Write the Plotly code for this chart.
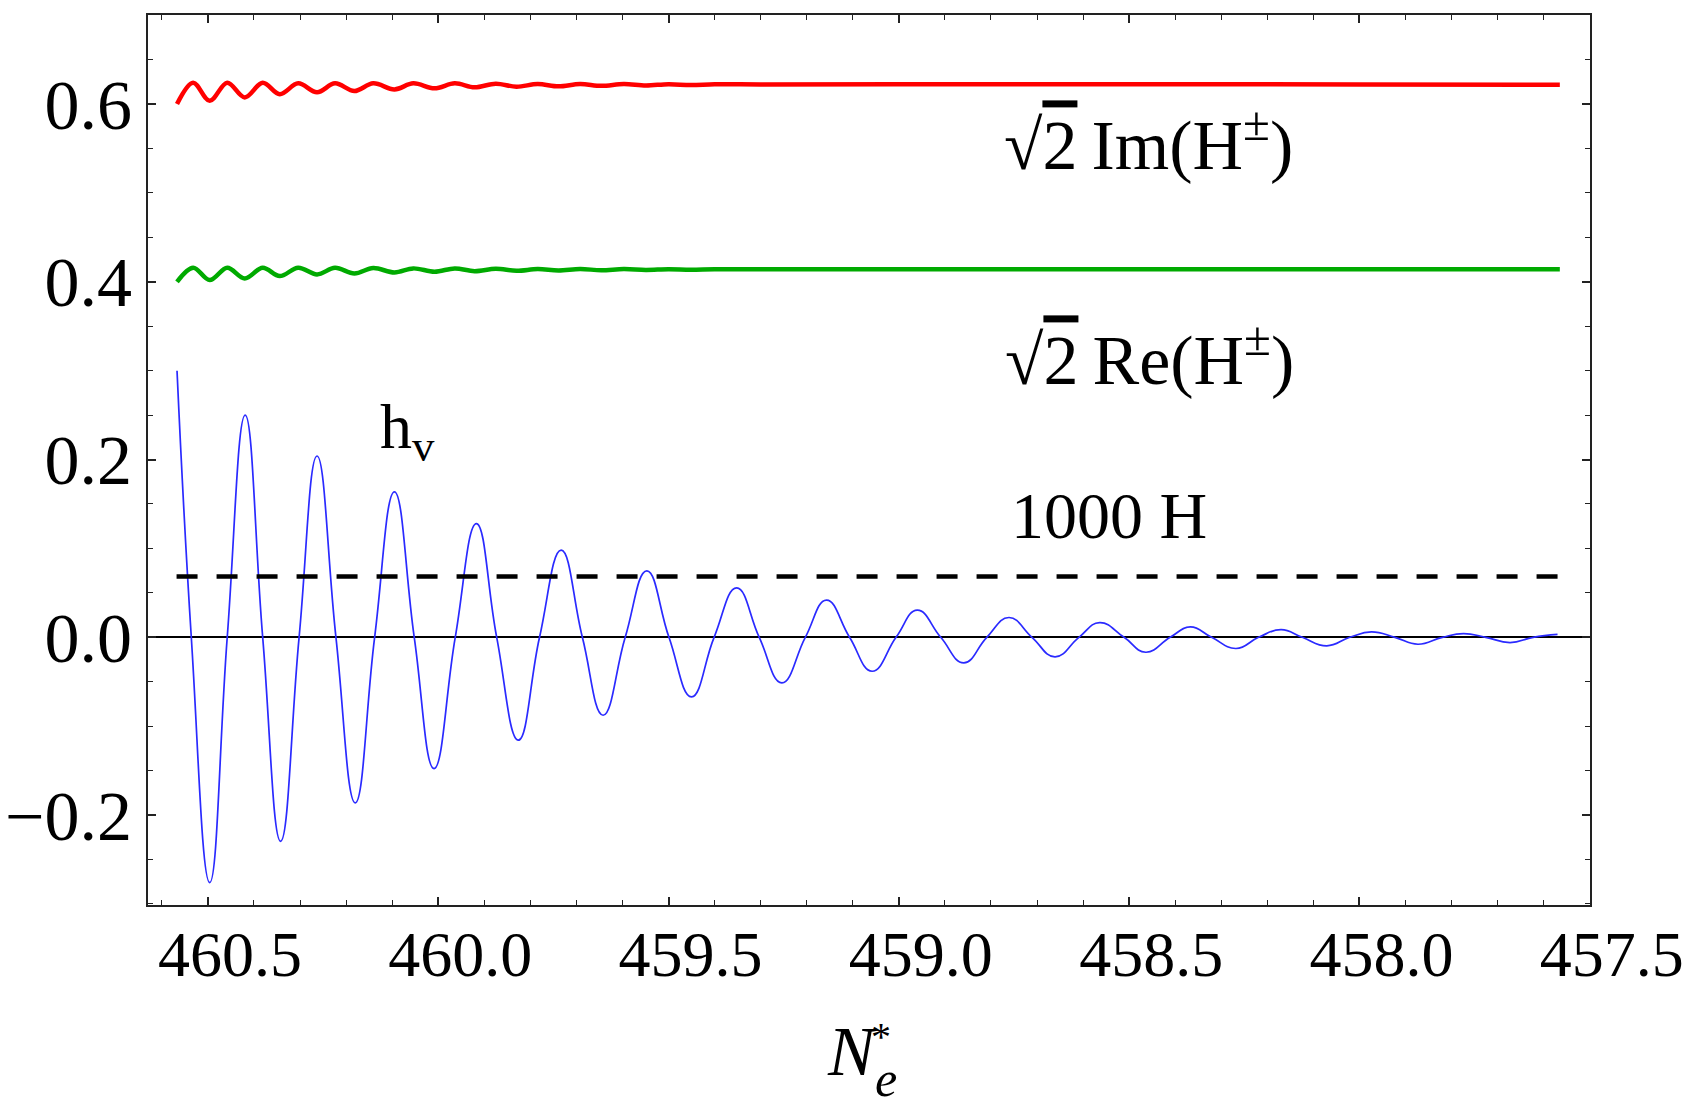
import plotly.graph_objects as go

# ---------------- data ----------------
hv_x = [460.567, 460.536, 460.496, 460.458, 460.419, 460.381, 460.342, 460.302, 460.263, 460.222,
        460.180, 460.138, 460.095, 460.052, 460.009, 459.963, 459.917, 459.873, 459.826, 459.780,
        459.733, 459.687, 459.642, 459.594, 459.547, 459.499, 459.450, 459.401, 459.352, 459.303,
        459.254, 459.203, 459.157, 459.107, 459.058, 459.006, 458.960, 458.909, 458.859, 458.809,
        458.761, 458.711, 458.661, 458.609, 458.564, 458.511, 458.464, 458.411, 458.367, 458.321,
        458.268, 458.219, 458.170, 458.124, 458.071, 458.021, 457.974, 457.923, 457.873, 457.820,
        457.774, 457.726, 457.673, 457.623, 457.570]
hv_y = [0.300, 0.0, -0.276, 0.0, 0.250, 0.0, -0.2295, 0.0, 0.204, 0.0,
        -0.1864, 0.0, 0.1637, 0.0, -0.1477, 0.0, 0.128, 0.0, -0.1158, 0.0,
        0.098, 0.0, -0.0877, 0.0, 0.0748, 0.0, -0.067, 0.0, 0.0557, 0.0,
        -0.0513, 0.0, 0.0418, 0.0, -0.0382, 0.0, 0.0305, 0.0, -0.0288, 0.0,
        0.0223, 0.0, -0.0220, 0.0, 0.0166, 0.0, -0.0168, 0.0, 0.0117, 0.0,
        -0.0126, 0.0, 0.0087, 0.0, -0.0096, 0.0, 0.0061, 0.0, -0.0078, 0.0,
        0.0042, 0.0, -0.0059, 0.0, 0.0033]

im_x = [460.567, 460.532, 460.496, 460.458, 460.420, 460.381, 460.344, 460.304, 460.263, 460.224,
        460.182, 460.141, 460.095, 460.054, 460.008, 459.964, 459.921, 459.875, 459.830, 459.784,
        459.739, 459.692, 459.646, 459.597, 459.549, 459.500, 459.452, 459.400, 459.300, 459.000,
        458.500, 458.000, 457.565]
im_y = [0.600, 0.624, 0.6037, 0.624, 0.6075, 0.624, 0.611, 0.6233, 0.6132, 0.6233,
        0.6146, 0.6233, 0.6165, 0.6233, 0.6177, 0.6233, 0.6188, 0.6229, 0.6195, 0.6225,
        0.6199, 0.6225, 0.6205, 0.6225, 0.6209, 0.6224, 0.6213, 0.6222, 0.6221, 0.6222,
        0.6222, 0.6221, 0.6218]

re_x = im_x
re_y = [0.400, 0.4158, 0.4019, 0.4158, 0.4038, 0.4158, 0.4064, 0.4158, 0.4083, 0.4158,
        0.4094, 0.4155, 0.4105, 0.4151, 0.4113, 0.4151, 0.4120, 0.4147, 0.4124, 0.4143,
        0.4128, 0.4143, 0.4131, 0.4143, 0.4134, 0.4142, 0.4136, 0.4141, 0.4140, 0.4142,
        0.4142, 0.4142, 0.4140]

H_x = [460.568, 457.565]
H_y = [0.0685, 0.0685]

x_ticks = [460.5, 460.0, 459.5, 459.0, 458.5, 458.0, 457.5]
x_ticklabels = ["460.5", "460.0", "459.5", "459.0", "458.5", "458.0", "457.5"]
y_ticks = [-0.2, 0.0, 0.2, 0.4, 0.6]
y_ticklabels = ["\u22120.2", "0.0", "0.2", "0.4", "0.6"]

OVL = "<span style='text-decoration:overline'>2</span>"
labels = [
    ("\u221A" + OVL + "\u2009Im(H<sup>\u00B1</sup>)", 458.458, 0.559, 70),
    ("\u221A" + OVL + "\u2009Re(H<sup>\u00B1</sup>)", 458.456, 0.318, 70),
    ("h<sub>v</sub>", 460.067, 0.232, 64),
    ("1000 H", 458.544, 0.137, 66),
]

FONT = "Liberation Serif"

fig = go.Figure()
fig.add_trace(go.Scatter(x=hv_x, y=hv_y, mode="lines",
                         line=dict(color="#2a2aff", width=1.7, shape="spline", smoothing=1.3)))
fig.add_trace(go.Scatter(x=H_x, y=H_y, mode="lines",
                         line=dict(color="black", width=4.5, dash="21px,19px")))
fig.add_trace(go.Scatter(x=re_x, y=re_y, mode="lines",
                         line=dict(color="#00aa00", width=4.5, shape="spline", smoothing=1.0)))
fig.add_trace(go.Scatter(x=im_x, y=im_y, mode="lines",
                         line=dict(color="#ff0000", width=4.5, shape="spline", smoothing=1.0)))

for txt, lx, ly, fs in labels:
    fig.add_annotation(x=lx, y=ly, xref="x", yref="y", text=txt, showarrow=False,
                       xanchor="center", yanchor="middle",
                       font=dict(family=FONT, size=fs, color="black"))

# axis title N_e^*
fig.add_annotation(x=0.4889, y=-0.165, xref="paper", yref="paper", text="<i>N</i>",
                   showarrow=False, xanchor="center", yanchor="middle",
                   font=dict(family=FONT, size=70, color="black"))
fig.add_annotation(x=0.5118, y=-0.195, xref="paper", yref="paper", text="<i>e</i>",
                   showarrow=False, xanchor="center", yanchor="middle",
                   font=dict(family=FONT, size=50, color="black"))
fig.add_annotation(x=0.5083, y=-0.148, xref="paper", yref="paper", text="*",
                   showarrow=False, xanchor="center", yanchor="middle",
                   font=dict(family=FONT, size=40, color="black"))

fig.update_layout(
    width=1699, height=1110,
    margin=dict(l=148, r=109, t=15, b=205, autoexpand=False),
    paper_bgcolor="white", plot_bgcolor="white",
    showlegend=False,
)
fig.update_xaxes(
    range=[460.630, 457.4995],
    automargin=False,
    tickmode="array", tickvals=x_ticks, ticktext=x_ticklabels,
    ticks="inside", ticklen=8, tickwidth=1.5, tickcolor="#222",
    minor=dict(ticks="inside", dtick=0.1, tick0=457.5, ticklen=5, tickwidth=1.2, tickcolor="#222"),
    showline=True, linecolor="#222", linewidth=2, mirror="allticks",
    showgrid=False, zeroline=False,
    tickfont=dict(family=FONT, size=64, color="black"),
    ticklabelstandoff=-8, ticklabelshift=-22,
)
fig.update_yaxes(
    range=[-0.3012, 0.7002],
    automargin=False,
    tickmode="array", tickvals=y_ticks, ticktext=y_ticklabels,
    ticks="inside", ticklen=8, tickwidth=1.5, tickcolor="#222",
    minor=dict(ticks="inside", dtick=0.05, tick0=0, ticklen=5, tickwidth=1.2, tickcolor="#222"),
    showline=True, linecolor="#222", linewidth=2, mirror="allticks",
    showgrid=False, zeroline=True, zerolinecolor="black", zerolinewidth=1.5,
    tickfont=dict(family=FONT, size=70, color="black"),
    ticklabelstandoff=0,
)

fig.write_html("out.html")
